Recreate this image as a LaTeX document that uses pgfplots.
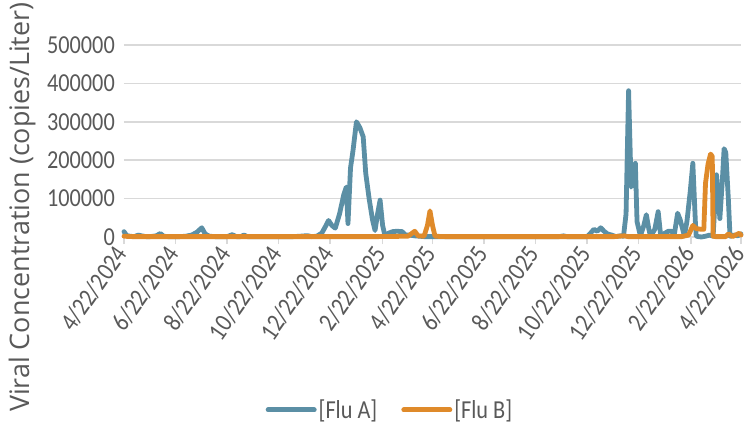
\documentclass[border=0pt]{standalone}
\usepackage{pgfplots}
\pgfplotsset{compat=1.18}
\usepackage{fontspec}
\setmainfont{Carlito}[FakeStretch=0.86]
\newfontfamily\labfont{Open Sans}
\definecolor{fluA}{HTML}{5B8FA5}
\definecolor{fluB}{HTML}{DF8A2A}
\definecolor{gridc}{HTML}{D9D9D9}
\definecolor{txt}{HTML}{595959}
\begin{document}
\begin{tikzpicture}[x=1bp,y=1bp]
\useasboundingbox (-124bp,-188bp) rectangle (624bp,237bp);
\begin{axis}[
  at={(0,0)}, anchor=south west,
  scale only axis, width=617bp, height=192bp,
  xmin=0, xmax=730, ymin=0, ymax=500000,
  clip=false,
  axis y line*=left,
  y axis line style={draw=none},
  axis x line*=bottom,
  x axis line style={draw=gridc, line width=1.5bp},
  ymajorgrids, grid style={draw=gridc, line width=1.5bp},
  ytick={0,100000,200000,300000,400000,500000},
  ytick style={draw=none},
  yticklabel style={font=\fontsize{26}{28}\selectfont, text=txt, inner sep=2bp},
  scaled y ticks=false,
  yticklabel={\pgfmathprintnumber[fixed,precision=0,1000 sep={},assume math mode=true]{\tick}},
  xtick={0,61,122,183,244,306,365,426,487,548,609,671,730},
  xticklabels={4/22/2024,6/22/2024,8/22/2024,10/22/2024,12/22/2024,2/22/2025,4/22/2025,6/22/2025,8/22/2025,10/22/2025,12/22/2025,2/22/2026,4/22/2026},
  xticklabel style={font=\fontsize{26}{28}\selectfont, text=txt, rotate=55, anchor=east, inner sep=1.5bp, xshift=-4bp, yshift=-1bp},
  tick align=outside, major tick length=7bp,
  xtick style={draw=gridc, line width=1.5bp},
  every axis y label/.style={at={(axis description cs:-0.165,0.155)}, rotate=90, anchor=center},
  ylabel={\labfont\fontsize{27}{29}\selectfont\color{txt}Viral Concentration (copies/Liter)},
  legend style={at={(axis description cs:0.431,-0.901)}, anchor=center, draw=none, fill=none,
    font=\fontsize{26}{28}\selectfont, text=txt, legend columns=2,
    /tikz/every even column/.append style={column sep=22bp}},
  legend image code/.code={\draw[#1, line width=5bp] (0bp,0bp) -- (46bp,0bp);},
  every axis plot/.append style={line width=4.8bp, line join=round, line cap=round},
]
\addplot[color=fluA] coordinates {
(0,14000) (3,4000) (7,2000) (12,1000) (17,5000) (21,3000) (26,1000) (31,1000) (38,3000) (43,9000) (47,2000) (52,1000) (59,1000) (66,1000) (73,2000) (80,5000) (86,12000) (92,24000) (96,8000) (101,2000) (108,1000) (115,1000) (122,1000) (128,6000) (133,1000) (138,1000) (142,5000) (146,1000) (152,1000) (160,1000) (170,1000) (180,1000) (190,1000) (200,1000) (208,2000) (214,3000) (218,3000) (222,1000) (228,2000) (234,10000) (239,30000) (242,43000) (246,30000) (250,23000) (255,60000) (260,110000) (263,130000) (265,35000) (268,180000) (271,226000) (275,300000) (279,285000) (283,261000) (286,166000) (290,100000) (294,45000) (297,17000) (300,60000) (303,96000) (306,30000) (309,1000) (313,10000) (318,14000) (323,15000) (329,14000) (333,5000) (338,5000) (344,3000) (350,2000) (355,1000) (362,1000) (370,1000) (380,1000) (400,1000) (420,1000) (440,1000) (460,1000) (480,1000) (500,1000) (515,1000) (520,3000) (524,1000) (530,1000) (540,1000) (548,1000) (552,10000) (556,20000) (560,15000) (564,24000) (568,15000) (572,8000) (577,5000) (582,1000) (587,3000) (591,2000) (594,60000) (597,381000) (600,130000) (603,150000) (605,192000) (607,40000) (611,3000) (615,30000) (618,58000) (621,20000) (623,2000) (628,20000) (632,66000) (635,3000) (640,10000) (644,15000) (648,15000) (651,5000) (655,62000) (658,45000) (661,20000) (663,3000) (666,40000) (670,120000) (673,192000) (676,40000) (677,2000) (683,0) (688,2000) (693,5000) (697,2000) (701,162000) (705,48000) (708,150000) (710,230000) (712,220000) (715,100000) (717,2000) (722,5000) (726,3000) (730,8000)
};
\addlegendentry{[Flu A]}
\addplot[color=fluB] coordinates {
(0,2000) (10,1000) (30,1000) (60,1000) (100,1000) (150,1000) (200,1000) (250,1000) (300,1000) (336,2000) (344,15000) (348,3000) (355,2000) (359,30000) (362,68000) (365,30000) (368,2000) (380,1000) (420,1000) (460,1000) (500,1000) (540,1000) (580,1000) (592,3000) (596,1000) (620,1000) (640,1000) (660,1000) (668,5000) (673,30000) (677,22000) (683,20000) (686,20000) (688,140000) (691,190000) (694,216000) (696,210000) (697,2000) (700,1000) (712,1000) (715,8000) (720,1000) (728,10000) (730,5000)
};
\addlegendentry{[Flu B]}
\end{axis}
\end{tikzpicture}
\end{document}
